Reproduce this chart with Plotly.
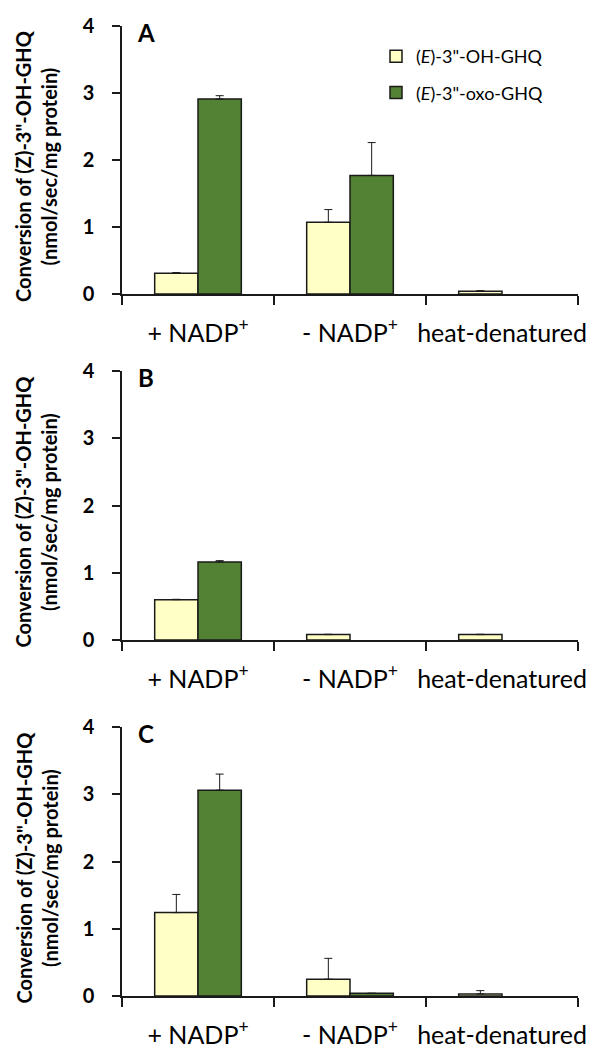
import plotly.graph_objects as go

categories = ["+ NADP<sup>+</sup>", "- NADP<sup>+</sup>", "heat-denatured"]
series_names = ["(<i>E</i>)-3\"-OH-GHQ", "(<i>E</i>)-3\"-oxo-GHQ"]
panel_labels = ["A", "B", "C"]

# None = no bar visible in the picture
A_oh = [0.31, 1.07, 0.04]
A_oh_err = [0.01, 0.19, 0.01]
A_oxo = [2.91, 1.77, None]
A_oxo_err = [0.05, 0.49, 0.0]

B_oh = [0.60, 0.08, 0.08]
B_oh_err = [0.005, 0.005, 0.005]
B_oxo = [1.16, None, None]
B_oxo_err = [0.02, 0.0, 0.0]

C_oh = [1.24, 0.25, 0.03]
C_oh_err = [0.27, 0.31, 0.05]
C_oxo = [3.06, 0.04, None]
C_oxo_err = [0.24, 0.0, 0.0]

y_ticks = [0, 1, 2, 3, 4]

panels = [
    (A_oh, A_oh_err, A_oxo, A_oxo_err),
    (B_oh, B_oh_err, B_oxo, B_oxo_err),
    (C_oh, C_oh_err, C_oxo, C_oxo_err),
]

OFF = 8  # page body margin
W, H = 609 - OFF, 1048 - OFF
FONT = "Lato"
colors = ["#FFFFC6", "#548235"]

def px(x):
    return (x - OFF) / W

def py(y):
    return 1 - (y - OFF) / H

# pixel layout in screenshot coordinates (top, bottom of y range 0..4)
x_left, x_right = 122, 578
y_px = [(26, 294), (371, 640), (727, 996)]

fig = go.Figure()
for i, (oh, oh_e, oxo, oxo_e) in enumerate(panels):
    xa = "x" if i == 0 else f"x{i+1}"
    ya = "y" if i == 0 else f"y{i+1}"
    for j, (vals, errs) in enumerate([(oh, oh_e), (oxo, oxo_e)]):
        fig.add_trace(go.Bar(
            x=categories, y=vals, name=series_names[j],
            xaxis=xa, yaxis=ya,
            marker=dict(color=colors[j], line=dict(color="#1a1a1a", width=1.5)),
            error_y=dict(type="data", symmetric=False, array=errs,
                         arrayminus=[0] * len(errs), color="#1a1a1a",
                         thickness=1, width=4),
            showlegend=(i == 0), legendgroup=f"g{j}",
        ))
    top, bot = y_px[i]
    xkey = "xaxis" if i == 0 else f"xaxis{i+1}"
    ykey = "yaxis" if i == 0 else f"yaxis{i+1}"
    fig.update_layout(**{
        xkey: dict(domain=[px(x_left), px(x_right)], anchor=ya,
                   type="category", showline=True, linecolor="#1a1a1a", linewidth=1.5,
                   ticks="outside", tickson="boundaries", ticklen=9, tickcolor="#1a1a1a",
                   tickwidth=1.5, tickangle=0,
                   tickfont=dict(family=FONT, size=25, color="black"),
                   ticklabelstandoff=16, automargin=False, showgrid=False,
                   fixedrange=True),
        ykey: dict(domain=[py(bot), py(top)], anchor=xa, range=[0, 4], tickvals=y_ticks,
                   ticktext=[f"<b>{t}</b>" for t in y_ticks],
                   showline=True, linecolor="#1a1a1a", linewidth=1.5,
                   ticks="outside", ticklen=8, tickcolor="#1a1a1a", tickwidth=1.5,
                   tickfont=dict(family=FONT, size=20, color="black"),
                   ticklabelstandoff=14,
                   showgrid=False, zeroline=False, automargin=False),
    })
    fig.add_annotation(xref="paper", yref="paper", x=px(36), y=py((top + bot) / 2 + 6),
                       text="<b>Conversion of (Z)-3\"-OH-GHQ</b><br><b>(nmol/sec/mg protein)</b>",
                       textangle=-90, showarrow=False,
                       font=dict(family=FONT, size=20, color="black"),
                       xanchor="center", yanchor="middle")
    fig.add_annotation(xref="paper", yref="paper", x=px(146), y=py(top + 6),
                       text=f"<b>{panel_labels[i]}</b>", showarrow=False,
                       font=dict(family=FONT, size=24, color="black"),
                       xanchor="center", yanchor="middle")

fig.update_layout(
    width=W, height=H,
    margin=dict(l=0, r=0, t=0, b=0),
    paper_bgcolor="white", plot_bgcolor="white",
    barmode="group", bargap=0.43, bargroupgap=0,
    legend=dict(x=px(376), y=py(38), xanchor="left", yanchor="top",
                font=dict(family=FONT, size=18, color="black"),
                tracegroupgap=10, bgcolor="rgba(0,0,0,0)"),
)

fig.write_html("out.html")
